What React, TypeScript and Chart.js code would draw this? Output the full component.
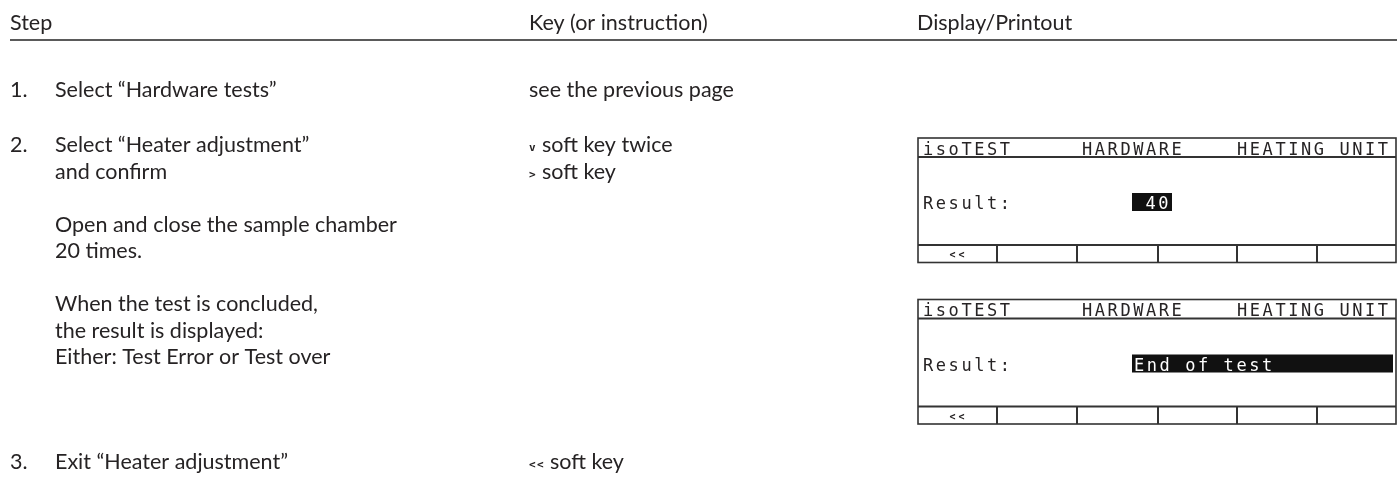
import React, { useEffect, useRef } from "react";
import { Chart, registerables } from "chart.js";

Chart.register(...registerables);

// ---------- content (data) ----------
const columnHeaders = ["Step", "Key (or instruction)", "Display/Printout"];
const stepNumbers = ["1.", "2.", "3."];
const step1Lines = ["Select “Hardware tests”"];
const step2Lines = [
  "Select “Heater adjustment”",
  "and confirm",
  "",
  "Open and close the sample chamber",
  "20 times.",
  "",
  "When the test is concluded,",
  "the result is displayed:",
  "Either: Test Error or Test over",
];
const step3Lines = ["Exit “Heater adjustment”"];
const keyIcons = ["", "v", ">", "<<"];
const keyTexts = ["see the previous page", "soft key twice", "soft key", "soft key"];
const displayHeader = ["isoTEST", "HARDWARE", "HEATING UNIT"];
const displayLabel = "Result:";
const displayResults = ["40", "End of test"];
const softKeyLabels = ["<<", "", "", "", "", ""];

// ---------- layout ----------
const W = 1397;
const H = 477;
const LINE = 26.5;
const X_NUM = 10;
const X_TEXT = 55;
const X_KEY = 529;
const X_DISP = 917;
const Y_HEAD = 30;
const Y_RULE = 40;
const STEP_Y = [97, 152, 469];
const KEY_Y = [97, 152, 178.5, 469];
const DISP_TOP = [138, 299.5];
const DISP_LEFT = 918;
const DISP_RIGHT = 1396;
const DISP_H = 124.5;
const HEAD_X = [923, 1082, 1237];
const PITCH = 12.8;
const SOFT_DIV = [997, 1077, 1158, 1237, 1317];
const HILITE = [
  { x0: 1132, x1: 1172, align: "right" },
  { x0: 1132, x1: 1393, align: "left" },
];

const BODY_FONT = "21.5px Lato, 'Noto Sans', sans-serif";
const LCD_FONT = "17px 'DejaVu Sans Mono', monospace";
const INK = "#262324";

const pagePlugin = {
  id: "pagePlugin",
  afterDraw(chart: any) {
    const ctx = chart.ctx as CanvasRenderingContext2D;
    const sx = chart.scales.x;
    const sy = chart.scales.y;
    const px = (v: number) => sx.getPixelForValue(v);
    const py = (v: number) => sy.getPixelForValue(v);
    ctx.save();
    ctx.fillStyle = INK;
    ctx.textBaseline = "alphabetic";
    ctx.textAlign = "left";
    ctx.font = BODY_FONT;

    // header
    ctx.fillText(columnHeaders[0], px(X_NUM), py(Y_HEAD));
    ctx.fillText(columnHeaders[1], px(X_KEY), py(Y_HEAD));
    ctx.fillText(columnHeaders[2], px(X_DISP), py(Y_HEAD));
    ctx.strokeStyle = "#5a5a5a";
    ctx.lineWidth = 2;
    ctx.beginPath();
    ctx.moveTo(px(X_NUM), py(Y_RULE));
    ctx.lineTo(px(W), py(Y_RULE));
    ctx.stroke();

    // steps
    const blocks = [step1Lines, step2Lines, step3Lines];
    blocks.forEach((lines, i) => {
      ctx.fillText(stepNumbers[i], px(X_NUM), py(STEP_Y[i]));
      lines.forEach((t, j) => {
        if (t) ctx.fillText(t, px(X_TEXT), py(STEP_Y[i] + j * LINE));
      });
    });

    // keys
    keyTexts.forEach((t, i) => {
      let x = X_KEY;
      if (keyIcons[i]) {
        ctx.font = "bold 11px 'DejaVu Sans Mono', monospace";
        const n = keyIcons[i].length;
        for (let k = 0; k < n; k++) {
          ctx.fillText(keyIcons[i][k], px(X_KEY + k * 8), py(KEY_Y[i] - 1));
        }
        x = X_KEY + n * 8 + 5;
        ctx.font = BODY_FONT;
      }
      ctx.fillText(t, px(x), py(KEY_Y[i]));
    });

    // displays
    DISP_TOP.forEach((top, d) => {
      const bottom = top + DISP_H;
      ctx.strokeStyle = "#333";
      ctx.lineWidth = 1.6;
      ctx.strokeRect(px(DISP_LEFT), py(top), px(DISP_RIGHT) - px(DISP_LEFT), py(bottom) - py(top));
      ctx.lineWidth = 2;
      ctx.beginPath();
      ctx.moveTo(px(DISP_LEFT), py(top + 19));
      ctx.lineTo(px(DISP_RIGHT), py(top + 19));
      ctx.moveTo(px(DISP_LEFT), py(top + 107));
      ctx.lineTo(px(DISP_RIGHT), py(top + 107));
      SOFT_DIV.forEach((x) => {
        ctx.moveTo(px(x), py(top + 107));
        ctx.lineTo(px(x), py(bottom));
      });
      ctx.stroke();

      ctx.font = LCD_FONT;
      ctx.fillStyle = INK;
      const drawLcd = (s: string, x0: number, y: number) => {
        for (let k = 0; k < s.length; k++) ctx.fillText(s[k], px(x0 + k * PITCH), py(y));
      };
      displayHeader.forEach((s, k) => drawLcd(s, HEAD_X[k], top + 16.5));
      drawLcd(displayLabel, 923, top + 71);
      const h = HILITE[d];
      ctx.fillStyle = "#111";
      ctx.fillRect(px(h.x0), py(top + 55), px(h.x1) - px(h.x0), py(top + 73) - py(top + 55));
      ctx.fillStyle = "#fff";
      const r = displayResults[d];
      const rx = h.align === "right" ? h.x1 - 1 - r.length * PITCH : h.x0 + 2;
      drawLcd(r, rx, top + 71);
      ctx.fillStyle = INK;
      ctx.font = "bold 10px 'DejaVu Sans Mono', monospace";
      softKeyLabels.forEach((s, k) => {
        if (!s) return;
        const cx0 = k === 0 ? DISP_LEFT : SOFT_DIV[k - 1];
        const cx1 = k < SOFT_DIV.length ? SOFT_DIV[k] : DISP_RIGHT;
        const mid = (cx0 + cx1) / 2;
        for (let m = 0; m < s.length; m++) ctx.fillText(s[m], px(mid - 8 + m * 9), py(top + 120));
      });
    });
    ctx.restore();
  },
};

export default function App() {
  const ref = useRef<HTMLCanvasElement | null>(null);
  useEffect(() => {
    if (!ref.current) return;
    const chart = new Chart(ref.current, {
      type: "scatter",
      data: { datasets: [] },
      options: {
        responsive: false,
        animation: false,
        events: [],
        layout: { padding: 0 },
        plugins: { legend: { display: false }, tooltip: { enabled: false }, title: { display: false } },
        scales: {
          x: { type: "linear", min: 0, max: W, display: false },
          y: { type: "linear", min: 0, max: H, reverse: true, display: false },
        },
      },
      plugins: [pagePlugin],
    });
    return () => chart.destroy();
  }, []);
  return (
    <div style={{ position: "fixed", left: 0, top: 0, width: W, height: H, background: "#fff" }}>
      <canvas ref={ref} width={W} height={H} style={{ display: "block", width: W, height: H }} />
    </div>
  );
}
